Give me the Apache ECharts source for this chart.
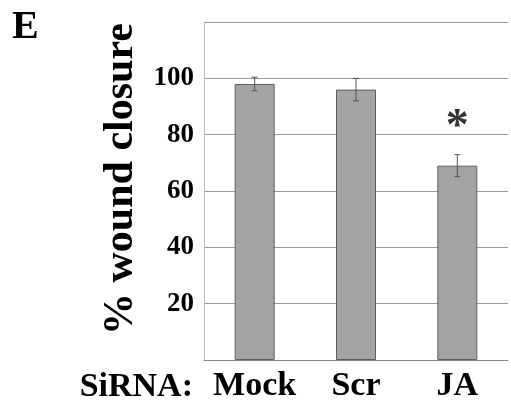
<!DOCTYPE html>
<html>
<head>
<meta charset="utf-8">
<script src="https://cdn.jsdelivr.net/npm/echarts@6/dist/echarts.min.js"></script>
<style>
html,body{margin:0;padding:0;background:#fff;}
#c{width:511px;height:403px;}
</style>
</head>
<body>
<div id="c"></div>
<script>
var categories = ['Mock', 'Scr', 'JA'];
var closureValues = [98, 96, 69];
var closureErrors = [2.4, 4, 3.9];
var significance = [['JA', 82.5]];
var yTicks = [20, 40, 60, 80, 100];

var FONT = '"Liberation Serif", "Times New Roman", serif';
var chart = echarts.init(document.getElementById('c'));

var errData = categories.map(function (c, i) {
  return [i, closureValues[i] - closureErrors[i], closureValues[i] + closureErrors[i]];
});

chart.setOption({
  animation: false,
  backgroundColor: '#ffffff',
  grid: { left: 204, top: 22, right: 3, bottom: 42.5 },
  graphic: [
    { type: 'text', left: 12, top: 8, style: { text: 'E', font: 'bold 40px ' + FONT, fill: '#000' } },
    { type: 'text', right: 318, bottom: -1, style: { text: 'SiRNA:', font: 'bold 34px ' + FONT, fill: '#000' } }
  ],
  xAxis: {
    type: 'category',
    data: categories,
    axisLine: { show: true, lineStyle: { color: '#888', width: 1 } },
    axisTick: { show: false },
    axisLabel: { color: '#000', fontFamily: FONT, fontWeight: 'bold', fontSize: 34, margin: 9, interval: 0, hideOverlap: false }
  },
  yAxis: {
    type: 'value',
    min: 0, max: 120, interval: 20,
    name: '% wound closure',
    nameLocation: 'middle',
    nameGap: 50,
    nameTextStyle: { color: '#000', fontFamily: FONT, fontWeight: 'bold', fontSize: 42, padding: [0, 0, 0, 24] },
    axisLine: { show: true, lineStyle: { color: '#bbb' } },
    axisTick: { show: false },
    axisLabel: {
      color: '#000', fontFamily: FONT, fontWeight: 'bold', fontSize: 27, margin: 10,
      formatter: function (v) { return yTicks.indexOf(v) >= 0 ? String(v) : ''; }
    },
    splitLine: { show: true, lineStyle: { color: '#999', width: 1 } }
  },
  series: [
    {
      type: 'bar',
      data: closureValues,
      barWidth: 40,
      itemStyle: { color: '#a3a3a3', borderColor: '#5e5e5e', borderWidth: 1 },
      z: 2
    },
    {
      type: 'custom',
      data: errData,
      z: 3,
      renderItem: function (params, api) {
        var x = api.value(0);
        var lo = api.coord([x, api.value(1)]);
        var hi = api.coord([x, api.value(2)]);
        var hw = 3;
        var st = { stroke: '#555', lineWidth: 1 };
        return {
          type: 'group',
          children: [
            { type: 'line', shape: { x1: lo[0], y1: lo[1], x2: hi[0], y2: hi[1] }, style: st },
            { type: 'line', shape: { x1: lo[0] - hw, y1: lo[1], x2: lo[0] + hw, y2: lo[1] }, style: st },
            { type: 'line', shape: { x1: hi[0] - hw, y1: hi[1], x2: hi[0] + hw, y2: hi[1] }, style: st }
          ]
        };
      }
    },
    {
      type: 'scatter',
      data: significance,
      symbolSize: 0,
      z: 4,
      label: {
        show: true, position: 'inside', formatter: '*',
        color: '#000', fontFamily: FONT, fontWeight: 'bold', fontSize: 46
      }
    }
  ]
});
</script>
</body>
</html>
